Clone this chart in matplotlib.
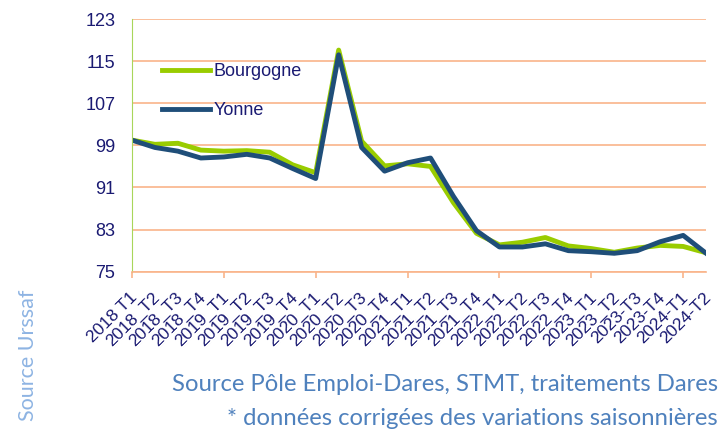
import matplotlib.pyplot as plt
import matplotlib.transforms as mtransforms
import numpy as np

quarters = ['2018 T1', '2018_T2', '2018_T3', '2018_T4',
            '2019_T1', '2019_T2', '2019_T3', '2019_T4',
            '2020_T1', '2020_T2', '2020_T3', '2020_T4',
            '2021_T1', '2021_T2', '2021_T3', '2021_T4',
            '2022_T1', '2022_T2', '2022_T3', '2022_T4',
            '2023_T1', '2023_T2', '2023-T3', '2023-T4',
            '2024-T1', '2024-T2']
bourgogne = [100.0, 99.2, 99.4, 98.1, 97.9, 98.0, 97.7, 95.3, 93.8, 117.1,
             99.8, 95.1, 95.5, 95.0, 88.1, 82.3, 80.1, 80.6, 81.5, 79.9,
             79.4, 78.7, 79.5, 80.0, 79.8, 78.6]
yonne = [100.0, 98.6, 97.9, 96.6, 96.8, 97.3, 96.6, 94.6, 92.7, 116.2,
         98.6, 94.1, 95.7, 96.6, 89.3, 82.8, 79.7, 79.7, 80.3, 79.0,
         78.8, 78.5, 79.0, 80.7, 81.9, 78.5]

plt.rcParams['font.family'] = ['Liberation Sans', 'DejaVu Sans']
navy_txt = '#1a1a72'
grid_col = '#f9b48a'

fig = plt.figure(figsize=(7.25, 4.32), dpi=100)
ax = fig.add_axes([0.182, 0.371, 0.792, 0.585])

x = np.arange(len(quarters))
ax.plot(x, bourgogne, color='#99cc00', lw=3.5, label='Bourgogne')
ax.plot(x, yonne, color='#1f4e79', lw=3.5, label='Yonne')

ax.set_xlim(0, len(quarters) - 1)
ax.set_ylim(75, 123)
ax.set_yticks(np.arange(75, 124, 8))
ax.yaxis.grid(True, color=grid_col, lw=1.2)
ax.set_axisbelow(True)
ax.tick_params(axis='y', length=0, pad=12, labelsize=13, labelcolor=navy_txt)

ax.xaxis.remove_overlapping_locs = False
ax.set_xticks(x[::4])
ax.set_xticklabels([])
ax.set_xticks(x, quarters, minor=True)
ax.tick_params(axis='x', which='major', length=4, color=grid_col, width=1.2)
ax.tick_params(axis='x', which='minor', length=0, pad=17)
shift = mtransforms.ScaledTranslation(2 / 72, 0, fig.dpi_scale_trans)
for lab in ax.get_xticklabels(minor=True):
    lab.set_rotation(45)
    lab.set_ha('right')
    lab.set_va('center')
    lab.set_rotation_mode('anchor')
    lab.set_fontsize(12.5)
    lab.set_color(navy_txt)
    lab.set_transform(lab.get_transform() + shift)

for s in ['top', 'right']:
    ax.spines[s].set_visible(False)
ax.spines['left'].set_color('#a8d65a')
ax.spines['bottom'].set_color(grid_col)
ax.spines['bottom'].set_linewidth(1.2)

leg = ax.legend(loc='center left', bbox_to_anchor=(0.04, 0.715), frameon=False,
                borderaxespad=0, fontsize=13, handlelength=2.65,
                labelspacing=1.2, handletextpad=0.2)
for t in leg.get_texts():
    t.set_color(navy_txt)

fig.text(0.038, 0.329, 'Source Urssaf', rotation=90, ha='center', va='top',
         color='#8eb4e3', fontsize=15.5, family='Lato')
fig.text(0.99, 0.109, 'Source Pôle Emploi-Dares, STMT, traitements Dares',
         ha='right', va='center', color='#4f81bd', fontsize=17.2, family='Lato')
fig.text(0.99, 0.032, '* données corrigées des variations saisonnières',
         ha='right', va='center', color='#4f81bd', fontsize=17.2, family='Lato')

fig.savefig('out.png', dpi=100)
